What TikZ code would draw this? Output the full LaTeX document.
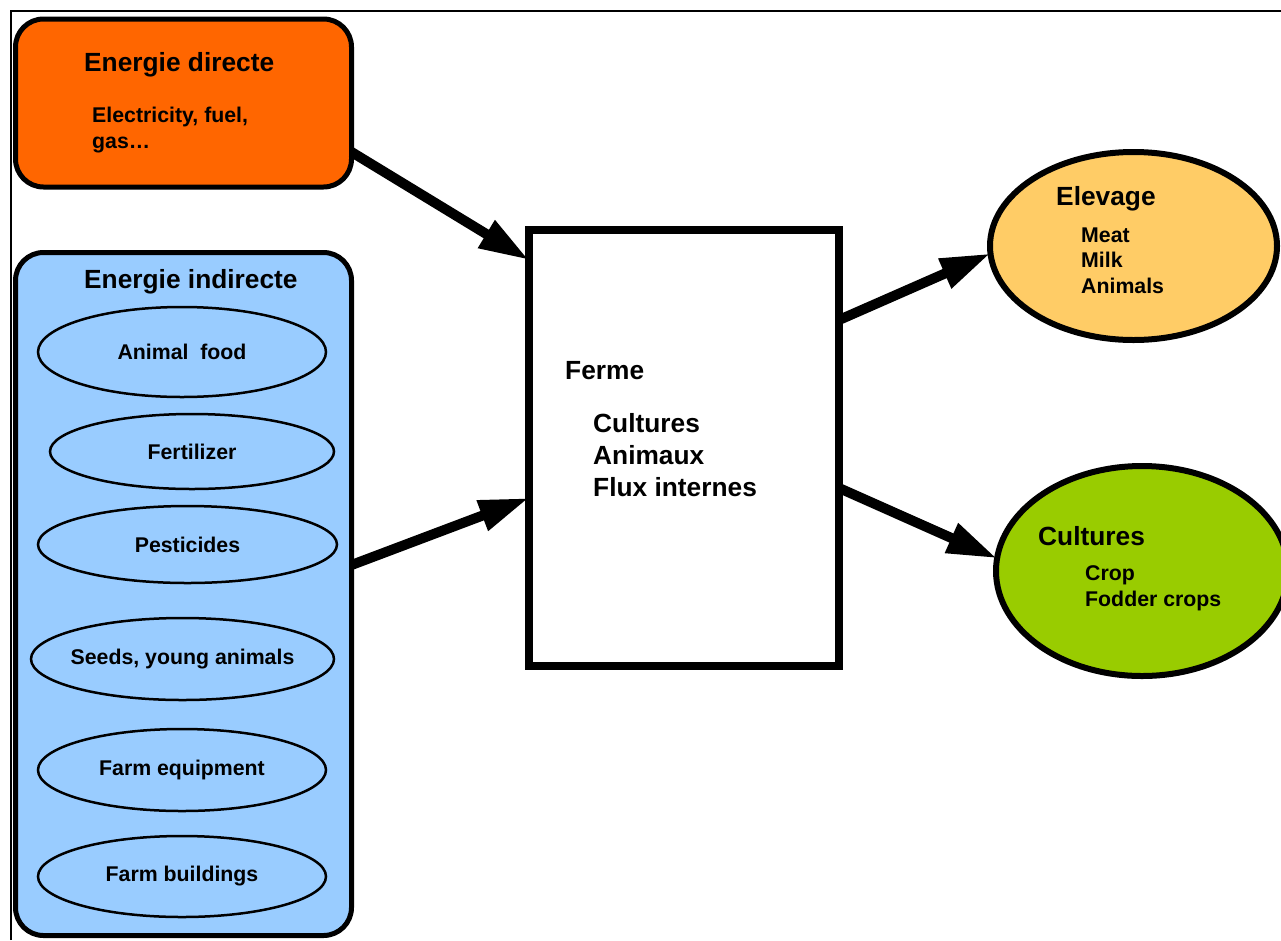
\documentclass[tikz,border=0pt]{standalone}
\usepackage{fontspec}
\setmainfont{Liberation Sans}
\usetikzlibrary{shapes,arrows.meta}
\definecolor{directorange}{HTML}{FF6600}
\definecolor{indirectblue}{HTML}{99CCFF}
\definecolor{elevageyellow}{HTML}{FFCC66}
\definecolor{culturesgreen}{HTML}{99CC00}
\tikzstyle{big} = [font=\fontsize{26.3}{32}\selectfont\bfseries, inner sep=0, align=left]
\tikzstyle{small} = [font=\fontsize{21.3}{25.5}\selectfont\bfseries, inner sep=0, align=left]
\tikzstyle{bigbox} = [draw=black, line width=5pt, rounded corners=28pt, outer sep=0, inner sep=0]
\tikzstyle{item} = [ellipse, draw=black, line width=2.5pt, fill=indirectblue, outer sep=0, inner sep=0, font=\fontsize{21.3}{25.5}\selectfont\bfseries]
\tikzstyle{output} = [ellipse, draw=black, line width=6pt, outer sep=0, inner sep=0]
\tikzstyle{flow} = [line width=10pt, -{Triangle[length=50pt 0 0, width=30pt 0 0]}]

\begin{document}
\begin{tikzpicture}[x=1pt,y=-1pt]
                \useasboundingbox (0,0) rectangle (1281,940);
                \draw[line width=2pt] (10.5,940) -- (10.5,10.5) -- (1281,10.5);

                \node[bigbox, fill=directorange, minimum width=336pt, minimum height=168pt] (direct) at (183.5,103) {};
                \node[big, anchor=base west] (directtitle) at (84,71) {Energie directe};
                \node[small, anchor=base west] (directlist) at (92,148) {Electricity, fuel,\\gas\ldots};

                \node[bigbox, fill=indirectblue, minimum width=336pt, minimum height=683pt] (indirect) at (183.5,594) {};
                \node[big, anchor=base west] (indirecttitle) at (84,288) {Energie indirecte};
                \node[item, minimum width=288pt, minimum height=90pt] (food) at (182,352) {Animal\ \ food};
                \node[item, minimum width=284pt, minimum height=75pt] (fertilizer) at (192,451.5) {Fertilizer};
                \node[item, minimum width=299pt, minimum height=77pt] (pesticides) at (187.5,544.5) {Pesticides};
                \node[item, minimum width=303pt, minimum height=82pt] (seeds) at (182.5,659) {\makebox[0pt]{Seeds, young animals}};
                \node[item, minimum width=288pt, minimum height=82pt] (equipment) at (182,770) {Farm equipment};
                \node[item, minimum width=288pt, minimum height=81pt] (buildings) at (182,876.5) {Farm buildings};

                \node[draw=black, line width=8pt, fill=white, minimum width=310pt, minimum height=436pt, outer sep=0] (ferme) at (684,448) {};
                \node[big, anchor=base west] (fermetitle) at (565,379) {Ferme};
                \node[big, anchor=base west] (fermelist) at (593,496) {Cultures\\Animaux\\Flux internes};

                \node[output, fill=elevageyellow, minimum width=287pt, minimum height=188pt] (elevage) at (1133.5,246) {};
                \node[big, anchor=base west] (elevagetitle) at (1056,205) {Elevage};
                \node[small, anchor=base west] (elevagelist) at (1081,293) {Meat\\Milk\\Animals};

                \node[output, fill=culturesgreen, minimum width=292pt, minimum height=210pt] (cultures) at (1142,571) {};
                \node[big, anchor=base west] (culturestitle) at (1038,545) {Cultures};
                \node[small, anchor=base west] (cultureslist) at (1085,606) {Crop\\Fodder crops};

                \draw[flow] ([yshift=-49pt]direct.east) -- ([yshift=-30pt]ferme.north west);
                \draw[flow] ([yshift=29pt]indirect.east) -- ([yshift=-50pt]ferme.west);
                \draw[flow] ([yshift=128pt]ferme.east) -- (elevage.183);
                \draw[flow] ([yshift=-40pt]ferme.east) -- (cultures.175);
            \end{tikzpicture}
\end{document}
